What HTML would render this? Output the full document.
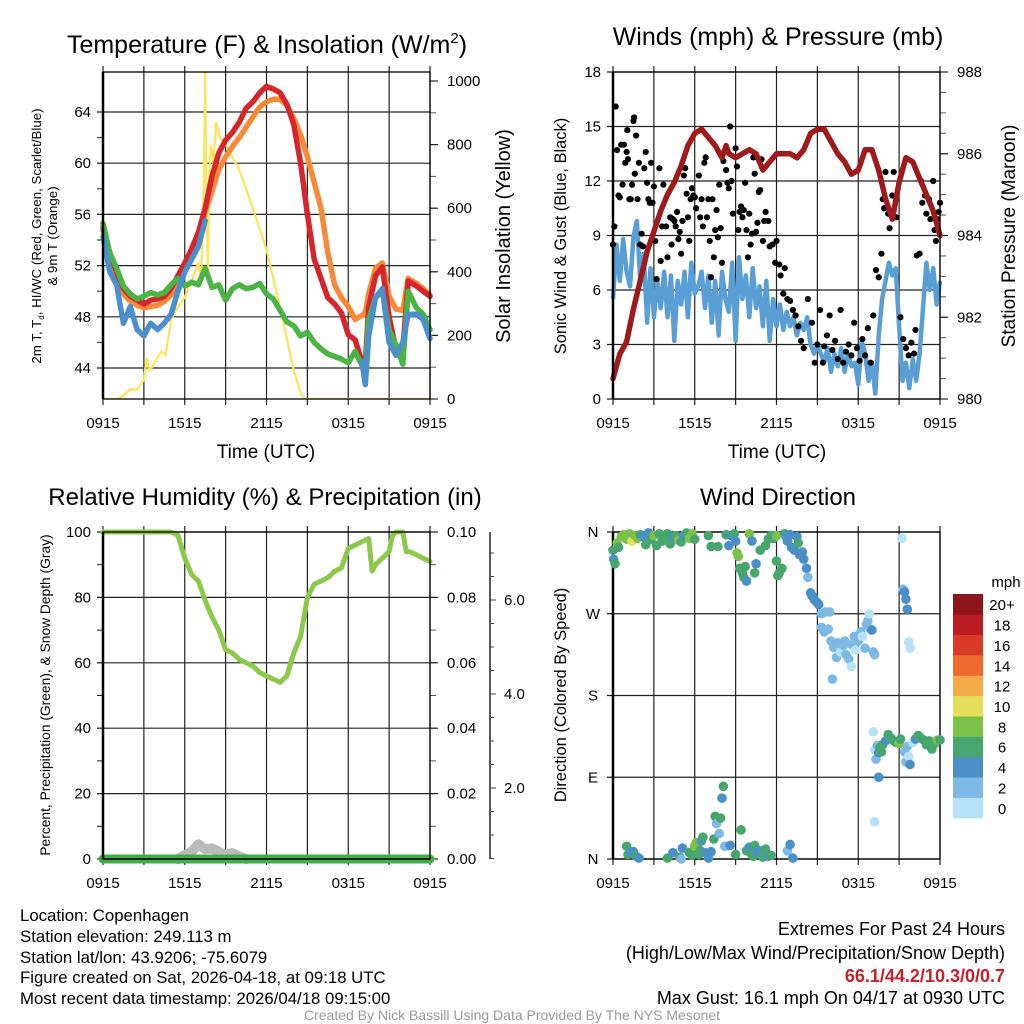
<!DOCTYPE html>
<html><head><meta charset="utf-8"><style>
html,body{margin:0;padding:0;background:#fff;}
svg{display:block;font-family:"Liberation Sans",sans-serif;}
</style></head><body>
<svg id="fig" width="1024" height="1024" viewBox="0 0 1024 1024" xmlns="http://www.w3.org/2000/svg">
<rect x="0" y="0" width="1024" height="1024" fill="#fff"/>
<text x="267" y="53" font-size="25" text-anchor="middle">Temperature (F) &amp; Insolation (W/m<tspan font-size="15" dy="-10">2</tspan><tspan dy="10">)</tspan></text>
<text x="778" y="45" font-size="25" text-anchor="middle">Winds (mph) &amp; Pressure (mb)</text>
<text x="265" y="505" font-size="24" text-anchor="middle">Relative Humidity (%) &amp; Precipitation (in)</text>
<text x="778" y="505" font-size="24" text-anchor="middle">Wind Direction</text>
<text x="266" y="458" font-size="19" text-anchor="middle">Time (UTC)</text>
<text x="777" y="458" font-size="19" text-anchor="middle">Time (UTC)</text>
<text transform="translate(41,236) rotate(-90)" font-size="13.3" text-anchor="middle">2m T, T<tspan font-size="8" dy="3">d</tspan><tspan dy="-3">, HI/WC (Red, Green, Scarlet/Blue)</tspan></text>
<text transform="translate(57,236) rotate(-90)" font-size="13.3" text-anchor="middle">&amp; 9m T (Orange)</text>
<text transform="translate(510,236) rotate(-90)" font-size="20" text-anchor="middle">Solar Insolation (Yellow)</text>
<text transform="translate(566,236) rotate(-90)" font-size="16.5" text-anchor="middle">Sonic Wind &amp; Gust (Blue, Black)</text>
<text transform="translate(1015,236) rotate(-90)" font-size="19" text-anchor="middle">Station Pressure (Maroon)</text>
<text transform="translate(50,695) rotate(-90)" font-size="13.8" text-anchor="middle">Percent, Precipitation (Green), &amp; Snow Depth (Gray)</text>
<text transform="translate(566,695) rotate(-90)" font-size="16.5" text-anchor="middle">Direction (Colored By Speed)</text>
<g font-size="16.8">
<text x="20" y="921">Location: Copenhagen</text>
<text x="20" y="942">Station elevation: 249.113 m</text>
<text x="20" y="963">Station lat/lon: 43.9206; -75.6079</text>
<text x="20" y="983">Figure created on Sat, 2026-04-18, at 09:18 UTC</text>
<text x="20" y="1004">Most recent data timestamp: 2026/04/18 09:15:00</text>
</g>
<g font-size="18" text-anchor="end">
<text x="1005" y="935">Extremes For Past 24 Hours</text>
<text x="1005" y="959">(High/Low/Max Wind/Precipitation/Snow Depth)</text>
<text x="1005" y="982" fill="#c8202a" font-weight="bold">66.1/44.2/10.3/0/0.7</text>
<text x="1005" y="1004">Max Gust: 16.1 mph On 04/17 at 0930 UTC</text>
</g>
<text x="512" y="1020" font-size="14" fill="#999" text-anchor="middle">Created By Nick Bassill Using Data Provided By The NYS Mesonet</text>
<g id="layer"></g>
</svg>
<script>
// ---------------- DATA ----------------
const xTickLabels = ["0915","1515","2115","0315","0915"];
const tempTimes = [0,0.5,1,1.5,2,2.5,3,3.5,4,4.5,5,5.5,6,6.5,7,7.5,8,8.5,9,9.5,10,10.5,11,11.5,12,12.5,13,13.5,14,14.5,15,15.5,16,16.5,17,17.5,18,18.5,19,19.25,19.5,20,20.5,21,21.5,22,22.4,23,23.5,24];
const tempRed =    [55,53,51.5,50.2,49.6,49.3,49,49.3,49.4,49.6,50.2,51.2,52.2,53.3,54.6,56.5,59,60.8,61.8,62.4,63.2,64.3,64.8,65.5,66.0,65.8,65.5,64.6,63,60,56,52.5,51,49.5,49,48.3,46.6,46.2,44.5,44.3,48.8,51.2,51.9,48,45.5,45.4,50.8,50.4,50,49.6];
const tempOrange = [54.8,52.5,51,49.8,49.2,48.9,48.7,48.8,48.9,49.2,49.7,50.8,51.5,52.8,54,56.2,57.8,59.5,60.5,61.3,62,62.8,63.6,64.4,64.8,65,65,64.5,63.5,62.2,60.5,58.5,56.5,53,50.5,49.5,48.8,47.8,48.1,48.3,49.8,51.8,52.2,49.6,48.6,48.5,51,50.6,50.2,49.7];
const tempGreen =  [55.3,53,51.8,50.4,49.8,49.4,49.6,49.9,49.7,49.9,50.5,51,50.4,50.7,50.5,51.8,50.3,50.5,49.3,50.2,50.5,50.2,50.3,50.6,49.8,49.4,48.5,47.6,47.3,46.5,46.8,46,45.5,45.1,44.9,44.7,44.4,45.3,44.2,43.8,47.8,49.5,50,47,45.8,44.3,50,48.7,48.2,47];
const tempBlue =   [54.3,51.5,50.5,47.5,48.8,47,46.5,47.5,47,47.5,48.2,50,51.5,52.5,53.5,55.5,null,null,null,null,null,null,null,null,null,null,null,null,null,null,null,null,null,null,null,null,null,null,44.5,42.7,46.5,49.5,50.2,46,45,46,48.2,48.2,47.8,46.3];
const solarTimes = [0,1,1.5,2,2.5,3,3.2,3.4,3.6,4,4.3,4.6,5,5.5,6,6.5,7,7.2,7.4,7.5,7.6,7.7,7.8,7.9,8.1,8.3,8.6,9,10,11,12,12.5,13,13.5,14,14.5,14.8,24];
const solarVals =  [0,0,10,30,30,60,130,90,100,130,150,140,250,290,320,370,430,360,680,1030,600,400,700,800,740,870,820,800,720,600,470,380,290,190,90,20,0,0];
const windTimes = [0,0.25,0.5,0.75,1,1.25,1.5,1.75,2,2.25,2.5,2.75,3,3.25,3.5,3.75,4,4.25,4.5,4.75,5,5.25,5.5,5.75,6,6.25,6.5,6.75,7,7.25,7.5,7.75,8,8.25,8.5,8.75,9,9.25,9.5,9.75,10,10.25,10.5,10.75,11,11.25,11.5,11.75,12,12.25,12.5,12.75,13,13.25,13.5,13.75,14,14.25,14.5,14.75,15,15.25,15.5,15.75,16,16.25,16.5,16.75,17,17.25,17.5,17.75,18,18.25,18.5,18.75,19,19.25,19.5,19.75,20,20.25,20.5,20.75,21,21.25,21.5,21.75,22,22.25,22.5,22.75,23,23.25,23.5,23.75,24];
const windSpeed = [5.5,8.5,6.5,8.8,7.0,6.2,8.9,9.8,6.5,8.0,4.2,7.2,4.5,6.5,5.0,7.0,4.5,6.8,3.2,6.5,5.2,7.0,4.5,7.5,5.8,6.2,7.0,5.0,6.8,4.2,6.5,3.5,7.0,5.5,4.8,7.5,3.2,7.8,5.5,6.8,4.5,7.2,5.0,6.2,4.0,6.5,3.2,5.5,4.0,5.2,3.8,4.8,4.0,4.5,3.5,4.2,3.8,4.5,3.0,2.5,3.0,2.5,2.0,2.8,1.5,2.5,1.8,2.8,1.5,2.5,1.8,2.0,0.8,3.2,2.5,1.0,2.0,0.3,3.5,5.5,6.5,7.5,6.8,7.2,4.0,1.0,2.0,0.6,2.2,1.0,2.5,5.0,7.5,6.0,7.2,5.2,6.5,7.5,7.5];
const gustTimes = [0,0.1,0.2,0.3,0.4,0.5,0.6,0.7,0.8,0.9,1.0,1.05,1.1,1.2,1.3,1.4,1.5,1.55,1.6,1.7,1.8,1.9,2.0,2.1,2.2,2.3,2.4,2.5,2.6,2.7,2.8,2.9,3.0,3.1,3.2,3.4,3.5,3.6,3.7,3.9,4.0,4.2,4.3,4.4,4.5,4.6,4.7,4.8,4.9,5.0,5.1,5.2,5.3,5.4,5.5,5.6,5.7,5.8,5.9,6.0,6.1,6.3,6.4,6.5,6.6,6.7,6.8,6.9,7.0,7.1,7.2,7.3,7.4,7.5,7.6,7.7,7.8,7.9,8.0,8.1,8.3,8.4,8.5,8.6,8.7,8.8,9.0,9.1,9.2,9.3,9.4,9.5,9.6,9.7,9.8,9.9,10.0,10.1,10.2,10.3,10.4,10.5,10.6,10.7,10.8,10.9,11.0,11.1,11.2,11.4,11.5,11.7,11.9,12.0,12.2,12.3,12.5,12.6,12.8,13.0,13.2,13.4,13.6,13.8,14.0,14.3,14.6,14.8,15.0,15.2,15.4,15.5,15.7,15.9,16.1,16.3,16.5,16.7,16.9,17.1,17.3,17.5,17.7,17.9,18.1,18.3,18.5,18.7,18.9,19.1,19.3,19.5,19.7,19.8,19.9,20.0,20.2,20.3,20.5,20.6,20.8,21.1,21.3,21.5,21.7,21.9,22.1,22.2,22.3,22.5,22.6,22.7,22.9,23.0,23.2,23.3,23.5,23.6,23.7,23.8,23.9,24.0];
const gustSpeed = [8.5,9.5,16.1,13.7,11.2,11.1,14.0,11.8,14.0,13.0,13.6,14.8,13.2,11.0,11.0,11.8,15.3,15.5,12.4,14.5,11.0,13.0,8.5,9.1,8.4,12.7,13.6,11.9,11.0,10.8,13.0,10.8,11.7,8.7,6.6,12.7,7.6,9.5,11.8,9.5,7.8,10.0,8.5,9.9,9.8,9.5,10.3,8.8,9.2,8.0,9.8,12.3,12.7,11.3,10.0,8.7,11.0,11.6,11.2,11.1,10.5,12.3,10.0,11.0,9.5,13.0,13.3,10.0,11.0,8.7,6.7,11.0,7.8,9.3,10.4,8.9,11.8,9.4,7.5,13.1,12.6,11.9,11.6,15.0,12.0,10.2,13.8,12.8,9.3,10.3,10.6,10.0,10.4,11.9,9.3,7.8,10.2,8.5,9.1,13.3,12.4,9.2,9.7,11.4,11.5,13.2,8.7,9.8,10.3,9.8,8.4,8.5,7.5,8.7,7.4,6.8,5.8,7.2,5.5,5.4,4.9,4.6,4.0,3.2,2.8,5.5,4.2,2.0,3.0,4.9,2.0,2.9,3.5,4.6,2.7,3.2,2.2,4.9,2.0,2.6,3.0,2.4,4.2,2.8,2.1,3.3,2.4,3.9,2.0,4.6,7.1,6.7,8.0,11.0,10.5,12.5,10.2,9.4,11.2,12.5,10.0,4.5,3.3,2.8,2.4,3.1,2.5,3.8,7.9,8.0,12.0,10.8,11.2,10.2,11.0,9.9,12.0,9.3,8.7,9.9,10.3,10.8,9.0,10.5];
const presTimes = [0,0.5,1,1.5,2,2.5,3,3.5,4,4.5,5,5.5,6,6.5,7,7.5,8,8.3,8.5,9,9.5,10,10.5,11,11.5,12,12.5,13,13.5,14,14.5,15,15.5,16,16.5,17,17.5,18,18.5,19,19.5,20,20.5,21,21.5,22,22.5,23,23.5,24];
const presVals =  [980.5,981.1,981.4,982.2,982.9,983.6,984.1,984.6,985.0,985.3,985.7,986.2,986.5,986.6,986.4,986.2,985.9,986.2,986.0,985.9,986.0,986.1,986.0,985.6,985.8,986.0,986.0,986.0,985.9,986.1,986.5,986.6,986.6,986.3,986.0,985.8,985.5,985.6,986.1,986.1,985.6,984.9,984.4,985.3,985.9,985.8,985.4,985.0,984.6,984.0];
const rhTimes = [0,5,5.5,6,6.5,7,7.5,8,8.5,9,9.5,10,10.5,11,11.5,12,12.5,13,13.5,14,14.5,15,15.5,16,16.5,17,17.5,18,18.5,19,19.5,19.75,20,20.5,21,21.25,21.5,22,22.25,22.5,23,23.5,24];
const rhVals =  [100,100,99,92,87,85,79,74,70,64,63,61,60,59,57,56,55,54,56,63,68,80,84,85,86,88,89,95,96,97,98,88,90,92,94,99,100,100,94,94,93,92,91];
const precipTimes = [0,24];
const precipVals = [0,0];
const snowTimes = [5.5,6,6.5,7,7.5,8,8.5,9,9.5,10,10.5];
const snowVals =  [0,1.2,2.2,4.5,3,3.2,2.2,1.2,1.8,0.8,0];
const snowTicks = ["2.0","4.0","6.0"];
const dirTimes = [0,0.05,0.15,0.3,0.4,0.6,0.8,1.0,1.2,1.4,1.6,1.8,2.0,2.2,2.4,2.6,2.8,3.0,3.2,3.4,3.6,3.8,4.0,4.2,4.4,4.6,4.8,5.0,5.2,5.4,5.6,5.8,6.0,7.0,7.2,7.7,8.3,8.5,8.7,8.9,9.0,9.1,9.2,9.3,9.5,9.6,9.8,9.7,10.0,10.2,10.4,10.5,10.8,11.2,11.4,11.6,11.8,12.0,12.0,12.1,12.2,12.4,12.6,12.7,12.8,13.0,13.1,13.3,13.5,13.6,13.7,13.9,14.0,14.2,14.3,14.5,14.6,14.7,14.8,15.0,15.1,15.3,15.6,15.9,15.3,15.5,15.8,16.0,16.2,16.4,16.5,16.7,16.9,17.0,17.1,17.3,17.5,17.7,17.8,18.0,18.2,18.3,18.5,18.6,18.7,18.9,19.0,19.1,19.2,16.1,17.5,18.8,19.1,19.2,19.3,19.4,19.5,19.6,19.7,19.8,20.0,20.2,20.4,20.6,20.8,21.0,21.1,21.4,21.5,21.6,21.7,21.8,22.0,22.2,22.4,22.6,22.8,23.0,23.2,23.4,23.6,23.8,24.0,21.2,21.3,21.4,21.5,21.6,21.7,21.8,19.2,19.5,1.0,1.1,1.3,1.5,1.7,1.9,4.0,4.4,4.9,5.0,5.1,5.6,5.8,6.0,6.1,6.2,6.3,6.4,6.5,6.6,6.8,7.0,7.2,7.4,7.5,7.6,7.8,7.9,8.0,8.1,8.2,8.6,9.0,9.4,9.8,10.0,10.2,10.3,10.4,10.6,10.8,11.0,11.2,11.4,11.6,12.8,13.0,13.2];
const dirDeg = [340,330,325,348,343,355,357,352,358,350,356,353,357,355,346,359,352,356,345,358,350,355,358,347,354,356,351,349,356,359,353,358,352,356,344,344,357,345,356,358,350,337,333,320,315,310,306,322,358,350,315,325,340,345,352,356,353,356,328,312,315,320,358,355,350,357,343,340,355,348,335,338,330,320,310,293,290,288,285,282,280,270,272,272,255,250,253,240,233,222,238,228,235,240,225,220,236,245,230,240,250,245,232,258,262,253,252,228,225,198,212,270,140,120,110,125,117,123,118,126,130,137,133,130,128,127,132,118,107,124,113,104,128,132,136,133,131,126,130,121,127,131,131,353,297,294,286,275,239,232,41,90,14,5,8,8,3,1,1,7,2,0,12,7,4,14,18,16,5,9,20,24,7,1,8,22,47,39,28,45,67,80,14,15,5,32,9,13,5,3,15,7,9,2,11,3,4,9,16,1];
const dirSpeed = [6,4,6,8,6,8,8,8,8,10,8,8,6,4,6,4,6,8,6,6,6,6,6,6,4,6,8,6,4,6,8,8,6,6,6,6,6,4,4,6,4,8,8,6,6,6,4,6,8,4,6,4,6,6,6,6,6,8,6,6,6,6,6,4,4,4,4,4,4,6,4,4,4,4,2,4,4,4,4,4,4,2,2,2,2,2,2,2,2,2,2,0,2,2,2,2,2,2,0,2,2,0,2,2,2,2,4,2,2,2,0,0,0,0,2,2,4,6,6,6,4,6,6,6,6,8,6,2,2,2,0,4,0,4,6,6,6,6,6,6,6,8,6,0,2,4,4,4,0,0,0,4,6,6,4,4,6,4,6,4,6,2,4,6,6,8,8,8,6,6,4,6,4,4,4,6,6,2,2,6,4,6,2,4,6,6,6,4,6,6,6,4,4,6,6,4,6,2,4,4];
const speedBinLabels = ["0","2","4","6","8","10","12","14","16","18","20+"];
const speedBinColors = ["#b5e2f7","#7db9e3","#4a8fc6","#47a66d","#7cc14a","#e5e05a","#f4aa48","#ee6a2e","#da3a2a","#bb1c24","#8e1519"];

// ---------------- HELPERS ----------------
const NS = "http://www.w3.org/2000/svg";
const layer = document.getElementById("layer");
function el(tag, attrs, parent){ const e=document.createElementNS(NS,tag); for(const k in attrs) e.setAttribute(k,attrs[k]); (parent||layer).appendChild(e); return e; }
function txt(x,y,s,size,anchor,parent){ const t=el("text",{x:x,y:y,"font-size":size,"text-anchor":anchor||"middle"},parent); t.textContent=s; return t; }
function linScale(d0,d1,r0,r1){ return v=>r0+(v-d0)*(r1-r0)/(d1-d0); }
function pathFrom(ts,vs,xs,ys){ let d="",pen=false; for(let i=0;i<ts.length;i++){ if(vs[i]===null){pen=false;continue;} d+=(pen?"L":"M")+xs(ts[i]).toFixed(1)+","+ys(vs[i]).toFixed(1); pen=true;} return d; }

function frame(g,L,T,R,B){
  const tx=linScale(0,24,L,R);
  for(let h=0;h<=24;h+=3){ const x=tx(h); el("line",{x1:x,y1:T-6,x2:x,y2:B+6,stroke:"#222","stroke-width":1.2},g); }
  xTickLabels.forEach((s,i)=>{ const lab=txt(tx(i*6),B+29,s,15,"middle",g);
    
     });
  return tx;
}
function border(g,L,T,R,B){
  el("rect",{x:L,y:T,width:R-L,height:B-T,fill:"none",stroke:"#000","stroke-width":1.3},g);
  el("line",{x1:L,y1:T,x2:L,y2:B,stroke:"#000","stroke-width":2.5},g);
}
function leftAxis(g,L,R,ys,lo,hi,major,minor,fmt){
  for(let v=lo; v<=hi+1e-9; v+=minor){ const y=ys(v); el("line",{x1:L-6,y1:y,x2:L,y2:y,stroke:"#222","stroke-width":1},g); }
  for(let v=lo; v<=hi+1e-9; v+=major){ const y=ys(v); el("line",{x1:L-6,y1:y,x2:R,y2:y,stroke:"#222","stroke-width":1.2},g);
    const lab=txt(L-12,y+5,fmt(v),15,"end",g);
    
     }
}
function rightAxis(g,R,ys,lo,hi,major,minor,fmt,grid,L){
  for(let v=lo; v<=hi+1e-9; v+=minor){ const y=ys(v); el("line",{x1:R,y1:y,x2:R+6,y2:y,stroke:"#555","stroke-width":1},g); }
  for(let v=lo; v<=hi+1e-9; v+=major){ const y=ys(v); el("line",{x1:grid?L:R,y1:y,x2:R+8,y2:y,stroke:"#222","stroke-width":1.2},g);
    const lab=txt(R+17,y+5,fmt(v),15,"start",g);
    
     }
}

// ---------------- PANEL 1: temperature ----------------
(function(){
  const L=103,T=72,R=430,B=399;
  const g=el("g",{});
  
  
  const tx=frame(g,L,T,R,B);
  const ty=linScale(44,64,368,112);
  const sy=linScale(0,1000,399,81);
  leftAxis(g,L,R,ty,44,64,4,2,v=>String(v));
  rightAxis(g,R,sy,0,1000,200,100,v=>String(v),false,L);
  el("clipPath",{id:"clip1"},g).appendChild(document.createElementNS(NS,"rect"));
  const cr=g.querySelector("#clip1 rect"); cr.setAttribute("x",L);cr.setAttribute("y",T);cr.setAttribute("width",R-L);cr.setAttribute("height",B-T);
  const series=[[tempOrange,"#f58a38","orange-9m-temp-line"],[tempRed,"#d7262b","red-2m-temp-line"],[tempGreen,"#4ab543","green-dewpoint-line"],[tempBlue,"#4b90cc","blue-windchill-line"]];
  const solar=el("path",{d:pathFrom(solarTimes,solarVals,tx,sy),fill:"none",stroke:"#fde45a","stroke-width":2.2,"clip-path":"url(#clip1)"},g);
  
  
  series.forEach(s=>{ const p=el("path",{d:pathFrom(tempTimes,s[0],tx,ty),fill:"none",stroke:s[1],"stroke-width":5.5,"stroke-linejoin":"round","stroke-linecap":"round"},g);
    
     });
  border(g,L,T,R,B);
})();

// ---------------- PANEL 2: winds ----------------
(function(){
  const L=613,T=72,R=940,B=399;
  const g=el("g",{});
  
  
  const tx=frame(g,L,T,R,B);
  const wy=linScale(0,18,399,72);
  const py=linScale(980,988,399,72);
  leftAxis(g,L,R,wy,0,18,3,3,v=>String(v));
  rightAxis(g,R,py,980,988,2,0.5,v=>String(v),false,L);
  const w=el("path",{d:pathFrom(windTimes,windSpeed,tx,wy),fill:"none",stroke:"#5a9ed6","stroke-width":4.5,"stroke-linejoin":"round"},g);
  
  
  gustTimes.forEach((t,i)=>{ const c=el("circle",{cx:tx(t),cy:wy(gustSpeed[i]),r:3.1,fill:"#000"},g);
    
     });
  const p=el("path",{d:pathFrom(presTimes,presVals,tx,py),fill:"none",stroke:"#9e1a1c","stroke-width":5.5,"stroke-linejoin":"round","stroke-linecap":"round"},g);
  
  
  border(g,L,T,R,B);
})();

// ---------------- PANEL 3: humidity ----------------
(function(){
  const L=103,T=532,R=430,B=859;
  const g=el("g",{});
  
  
  const tx=frame(g,L,T,R,B);
  const hy=linScale(0,100,859,532);
  const qy=linScale(0,0.10,859,532);
  leftAxis(g,L,R,hy,0,100,20,10,v=>String(v));
  rightAxis(g,R,qy,0,0.1,0.02,0.01,v=>v.toFixed(2),false,L);
  const sy=linScale(0,2,882,788);
  const ax=el("line",{x1:490,y1:532,x2:490,y2:859,stroke:"#222","stroke-width":1.5},g);
  
  
  for(let v=0.5; v<=7; v+=0.5){ const y=sy(v); if(y<532||y>859) continue; el("line",{x1:490,y1:y,x2:(v%2===0)?496:494,y2:y,stroke:"#444","stroke-width":1},g); }
  snowTicks.forEach(s=>{ const lab=txt(504,sy(parseFloat(s))+5,s,15,"start",g);
    
     });
  const sn=el("path",{d:pathFrom(snowTimes,snowVals,tx,hy),fill:"none",stroke:"#bbb","stroke-width":10,"stroke-linejoin":"round","stroke-linecap":"round"},g);
  
  
  const pr=el("path",{d:pathFrom(precipTimes,precipVals,tx,qy),fill:"none",stroke:"#3fae45","stroke-width":9,"stroke-linecap":"round"},g);
  
  
  const rh=el("path",{d:pathFrom(rhTimes,rhVals,tx,hy),fill:"none",stroke:"#8dc84b","stroke-width":5,"stroke-linejoin":"round","stroke-linecap":"round"},g);
  
  
  border(g,L,T,R,B);
  el("line",{x1:L,y1:B,x2:R,y2:B,stroke:"#222","stroke-width":2},g);
})();

// ---------------- PANEL 4: wind direction ----------------
(function(){
  const L=613,T=532,R=940,B=859;
  const g=el("g",{});
  
  
  const tx=frame(g,L,T,R,B);
  const dy=linScale(0,360,859,532);
  const dirLabels=["N","E","S","W","N"];
  dirLabels.forEach((s,i)=>{ const y=dy(i*90);
    el("line",{x1:L-6,y1:y,x2:R,y2:y,stroke:"#222","stroke-width":1.2},g);
    const lab=txt(L-20,y+5,s,15,"middle",g);
    
     });
  border(g,L,T,R,B);
  dirTimes.forEach((t,i)=>{ const bin=Math.min(10,Math.floor(dirSpeed[i]/2));
    const c=el("circle",{cx:tx(t),cy:dy(dirDeg[i]),r:4.8,fill:speedBinColors[bin]},g);
    
     });
  const cb=el("g",{},g);
  
  
  const top=594,bot=818,h=(bot-top)/speedBinColors.length;
  speedBinColors.forEach((c,i)=>{ const y=bot-(i+1)*h;
    const r=el("rect",{x:953,y:y,width:30,height:h+0.3,fill:c},cb);
    
    
    const lab=txt(1002,y+h/2+6,speedBinLabels[i],15,"middle",cb);
    
     });
  const u=txt(1006,587,"mph",15,"middle",cb);
  
  
})();
</script>
</body></html>
